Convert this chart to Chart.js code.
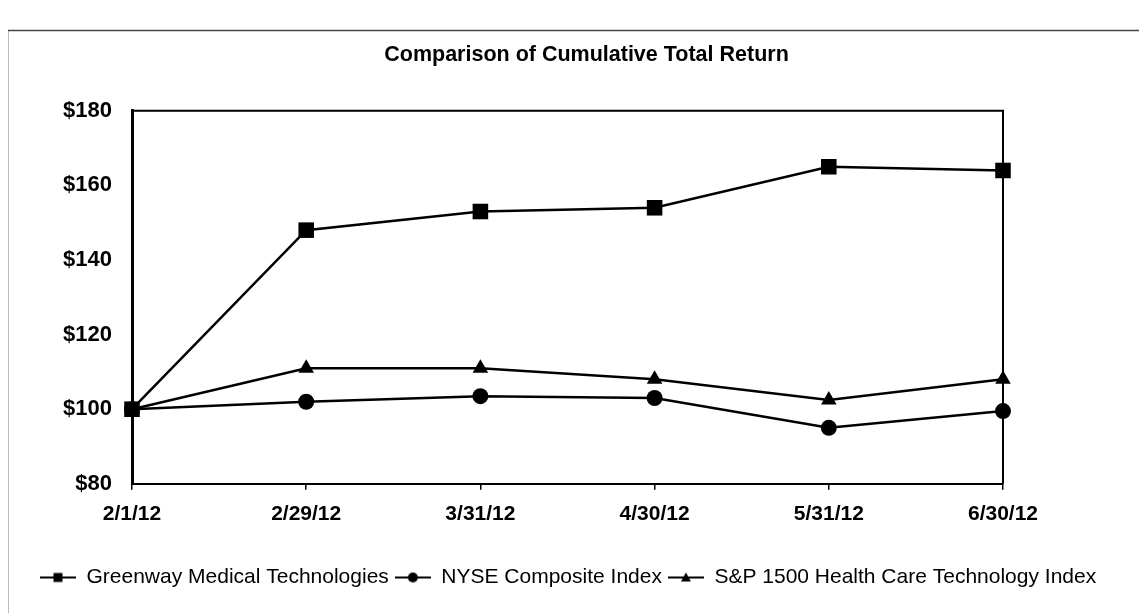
<!DOCTYPE html>
<html>
<head>
<meta charset="utf-8">
<script src="https://cdn.jsdelivr.net/npm/chart.js@4.4.0/dist/chart.umd.min.js"></script>
<style>
  html, body { margin: 0; padding: 0; background: #fff; }
  #wrap { width: 1139px; height: 613px; }
</style>
</head>
<body>
<div id="wrap"><canvas id="returnChart" width="1139" height="613"></canvas></div>
<script>
// data
const dates = ['2/1/12', '2/29/12', '3/31/12', '4/30/12', '5/31/12', '6/30/12'];
const greenway = [100, 148, 153, 154, 165, 164];
const nyseComposite = [100, 102, 103.5, 103, 95, 99.5];
const spHealthTech = [100, 111, 111, 108, 102.5, 108];
const seriesNames = ['Greenway Medical Technologies', 'NYSE Composite Index', 'S&P 1500 Health Care Technology Index'];
const yMin = 80, yMax = 180, yStep = 20;

const mainFont = "'Liberation Sans', Arial, sans-serif";

// little "line + marker" icons for the legend
function legendIcon(style) {
    const c = document.createElement('canvas');
    c.width = 36; c.height = 16;
    const g = c.getContext('2d');
    g.strokeStyle = '#000'; g.fillStyle = '#000'; g.lineWidth = 2;
    g.beginPath(); g.moveTo(0, 8); g.lineTo(36, 8); g.stroke();
    g.beginPath();
    if (style === 'rect') g.rect(13.5, 3.5, 9, 9);
    else if (style === 'circle') g.arc(18, 8, 5, 0, Math.PI * 2);
    else { g.moveTo(18, 3); g.lineTo(23, 12); g.lineTo(13, 12); g.closePath(); }
    g.fill();
    return c;
}
const icons = [legendIcon('rect'), legendIcon('circle'), legendIcon('triangle')];

const framePlugin = {
    id: 'frame',
    beforeDraw(chart) {
        const ctx = chart.ctx;
        ctx.save();
        ctx.strokeStyle = '#bbb'; ctx.lineWidth = 1;
        ctx.beginPath(); ctx.moveTo(8.5, 30); ctx.lineTo(8.5, 613); ctx.stroke();
        ctx.strokeStyle = '#444'; ctx.lineWidth = 1.5;
        ctx.beginPath(); ctx.moveTo(8, 30.5); ctx.lineTo(1139, 30.5); ctx.stroke();
        ctx.restore();
    },
    afterDraw(chart) {
        const a = chart.chartArea, ctx = chart.ctx;
        ctx.save();
        ctx.strokeStyle = '#000'; ctx.lineWidth = 2;
        ctx.beginPath();
        ctx.moveTo(a.left, a.top); ctx.lineTo(a.right, a.top); ctx.lineTo(a.right, a.bottom);
        ctx.stroke();
        ctx.restore();
    }
};

function lineSet(label, data, style, radius) {
    return {
        label: label, data: data,
        borderColor: '#000', backgroundColor: '#000', borderWidth: 2.5,
        pointStyle: style, pointRadius: radius, pointBackgroundColor: '#000', pointBorderColor: '#000',
        pointBorderWidth: 0, tension: 0, clip: false
    };
}

new Chart(document.getElementById('returnChart'), {
    type: 'line',
    data: {
        labels: dates,
        datasets: [
            lineSet(seriesNames[0], greenway, 'rect', 11),
            lineSet(seriesNames[1], nyseComposite, 'circle', 8),
            lineSet(seriesNames[2], spHealthTech, 'triangle', 9)
        ]
    },
    options: {
        responsive: false,
        animation: false,
        devicePixelRatio: 1,
        layout: { padding: { left: 34, right: 0, top: 0, bottom: 15 } },
        plugins: {
            title: {
                display: true,
                text: 'Comparison of Cumulative Total Return',
                color: '#000',
                font: { family: mainFont, size: 21.5, weight: 'bold' },
                padding: { top: 42, bottom: 43 }
            },
            legend: {
                position: 'bottom',
                align: 'start',
                labels: {
                    color: '#000',
                    font: { family: mainFont, size: 21 },
                    usePointStyle: true,
                    pointStyleWidth: 36,
                    padding: 6,
                    generateLabels(chart) {
                        const items = Chart.defaults.plugins.legend.labels.generateLabels(chart);
                        items.forEach((it, i) => { it.pointStyle = icons[i]; });
                        return items;
                    }
                }
            },
            tooltip: { enabled: false }
        },
        scales: {
            x: {
                offset: false,
                grid: { display: true, drawOnChartArea: false, drawTicks: true, tickLength: 6, color: '#000', lineWidth: 1.5 },
                border: { display: true, color: '#000', width: 2 },
                ticks: { color: '#000', font: { family: mainFont, size: 21, weight: 'bold' }, padding: 12, maxRotation: 0, autoSkip: false },
                afterFit(scale) { scale.height += 22; }
            },
            y: {
                min: yMin, max: yMax,
                grid: { display: false, drawTicks: false },
                border: { display: true, color: '#000', width: 3 },
                ticks: {
                    stepSize: yStep, color: '#000', padding: 20,
                    font: { family: mainFont, size: 22, weight: 'bold' },
                    callback: v => '$' + v
                },
                afterFit(scale) { scale.width = 98; }
            },
            // empty right-hand strip so the title centres over the full width
            spacer: {
                type: 'linear', position: 'right',
                grid: { display: false, drawTicks: false },
                border: { display: false },
                ticks: { display: false },
                afterFit(scale) { scale.width = 136; }
            }
        }
    },
    plugins: [framePlugin]
});
</script>
</body>
</html>
